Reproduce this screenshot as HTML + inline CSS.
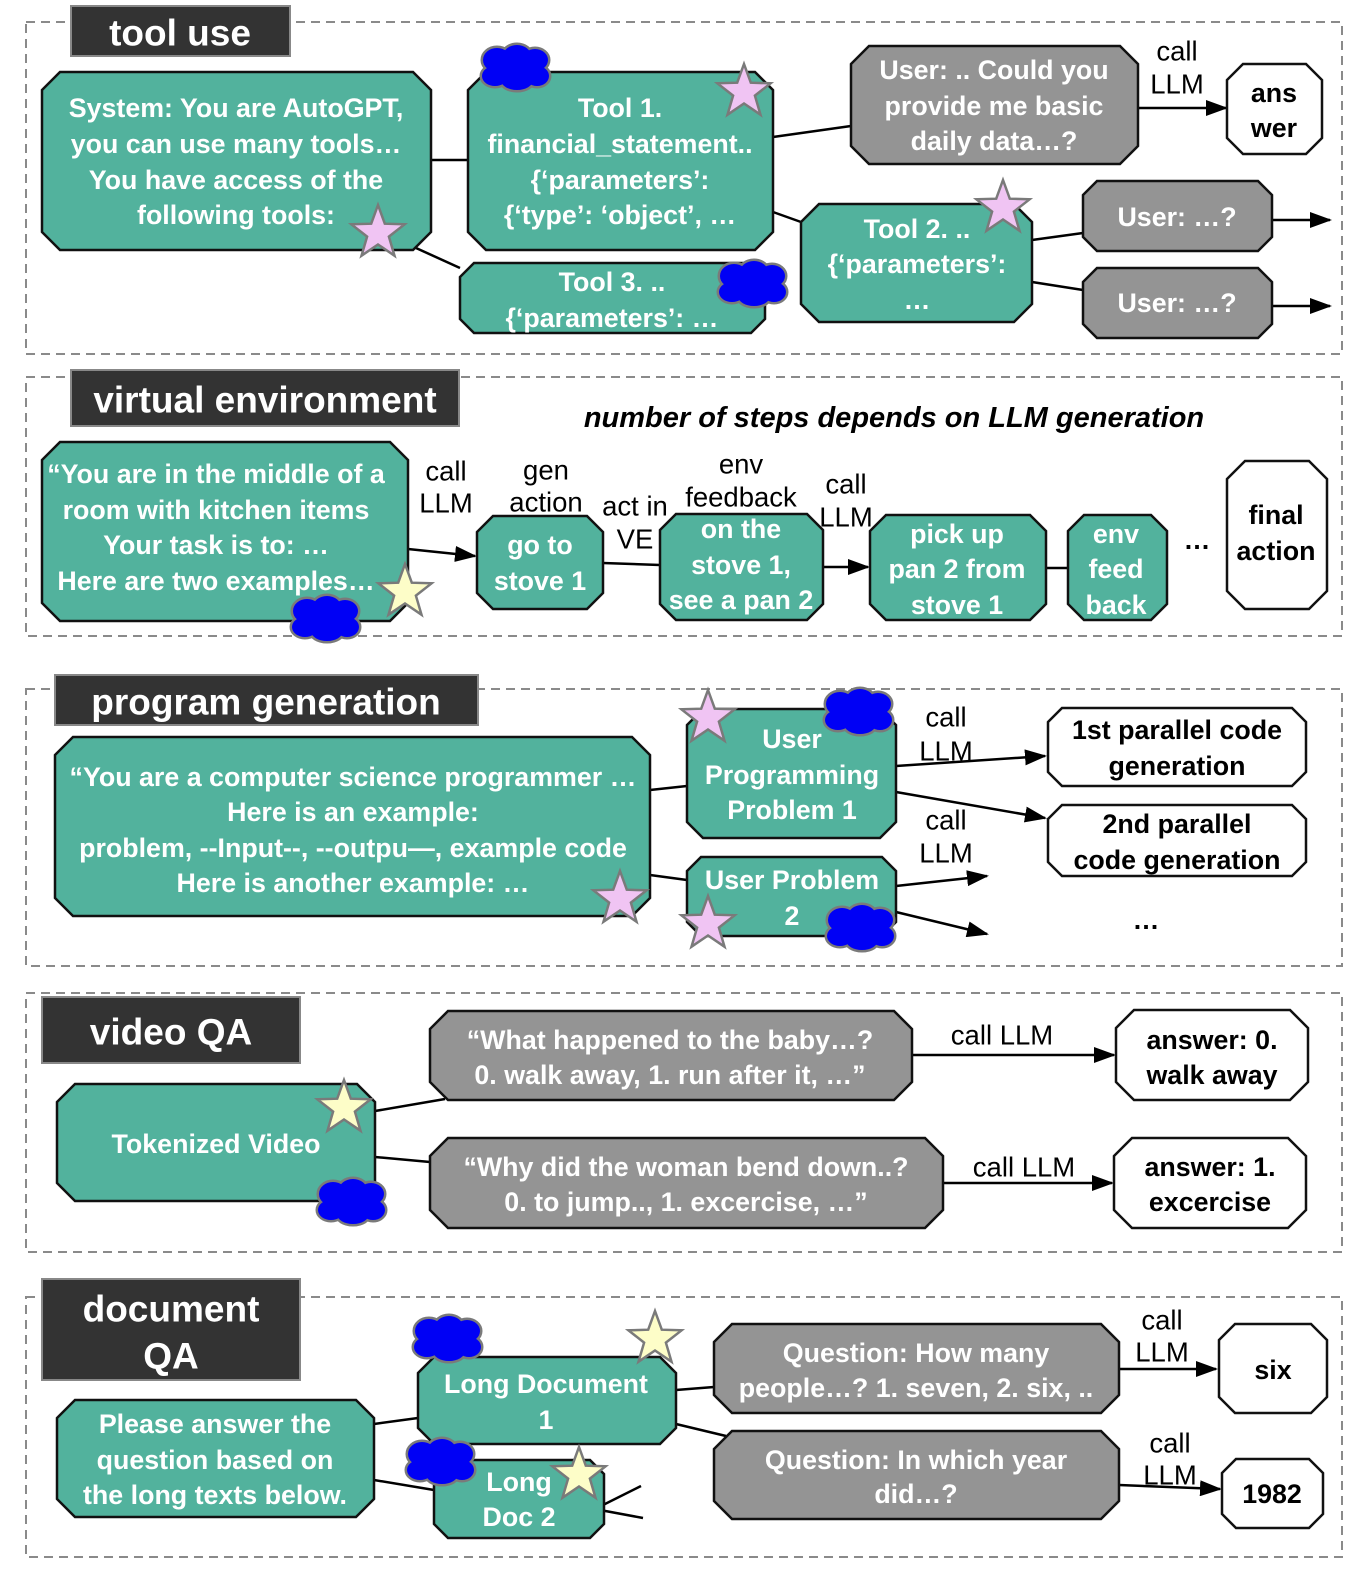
<!DOCTYPE html>
<html><head><meta charset="utf-8"><style>
html,body{margin:0;padding:0;background:#fff}
svg{display:block}
text{font-family:"Liberation Sans",Arial,sans-serif}
.t{fill:#fff;font-weight:bold;font-size:26.8px;text-anchor:middle;dominant-baseline:central}
.k{fill:#000;font-weight:bold;font-size:26.8px;text-anchor:middle;dominant-baseline:central}
.l{fill:#000;font-size:27.5px;text-anchor:middle;dominant-baseline:central}
.h{fill:#fff;font-weight:bold;font-size:37px;text-anchor:middle;dominant-baseline:central}
.g{fill:#52b29d;stroke:#111;stroke-width:2.5}
.y{fill:#949494;stroke:#111;stroke-width:2.5}
.w{fill:#fff;stroke:#111;stroke-width:2.5}
.d{fill:none;stroke:#8a8a8a;stroke-width:2;stroke-dasharray:9,6}
.lab{fill:#333;stroke:#888;stroke-width:2}
line{stroke:#000;stroke-width:2.5}
.a{marker-end:url(#ar)}
</style></head><body>
<svg width="1358" height="1572" viewBox="0 0 1358 1572" xmlns="http://www.w3.org/2000/svg">
<defs>
<marker id="ar" markerWidth="22" markerHeight="16" refX="20" refY="8" orient="auto" markerUnits="userSpaceOnUse"><path d="M0,0 L22,8 L0,16 z" fill="#000"/></marker>
<g id="ps"><polygon points="0,-28 6.8,-9.3 26.6,-8.7 10.9,3.6 16.5,22.7 0,11.5 -16.5,22.7 -10.9,3.6 -26.6,-8.7 -6.8,-9.3" fill="#f0c4f3" stroke="#7a7a7a" stroke-width="2.5"/></g>
<g id="ys"><polygon points="0,-28 6.8,-9.3 26.6,-8.7 10.9,3.6 16.5,22.7 0,11.5 -16.5,22.7 -10.9,3.6 -26.6,-8.7 -6.8,-9.3" fill="#fdfdc8" stroke="#7a7a7a" stroke-width="2.5"/></g>
<g id="cl">
<g fill="#7a7a7a" stroke="#7a7a7a" stroke-width="5">
<ellipse cx="-18" cy="-8" rx="14" ry="12"/><ellipse cx="2" cy="-12" rx="14" ry="11"/><ellipse cx="20" cy="-8" rx="13" ry="11"/><ellipse cx="22" cy="8" rx="12" ry="10"/><ellipse cx="2" cy="12" rx="16" ry="10"/><ellipse cx="-20" cy="8" rx="13" ry="10"/><ellipse cx="0" cy="0" rx="22" ry="14"/></g>
<g fill="#0000f5">
<ellipse cx="-18" cy="-8" rx="14" ry="12"/><ellipse cx="2" cy="-12" rx="14" ry="11"/><ellipse cx="20" cy="-8" rx="13" ry="11"/><ellipse cx="22" cy="8" rx="12" ry="10"/><ellipse cx="2" cy="12" rx="16" ry="10"/><ellipse cx="-20" cy="8" rx="13" ry="10"/><ellipse cx="0" cy="0" rx="22" ry="14"/></g>
</g>
</defs>

<!-- section 1 -->
<rect class="d" x="26" y="22" width="1316" height="332"/>
<rect class="lab" x="71" y="6" width="219" height="50"/>
<text class="h" x="180" y="33">tool use</text>
<line x1="431" y1="160" x2="468" y2="160"/>
<line x1="416" y1="248" x2="460" y2="268"/>
<line x1="773" y1="137" x2="851" y2="126"/>
<line x1="773" y1="212" x2="801" y2="222"/>
<line x1="1032" y1="240" x2="1083" y2="233"/>
<line x1="1032" y1="282" x2="1083" y2="290"/>
<line class="a" x1="1138" y1="108" x2="1226" y2="108"/>
<line class="a" x1="1272" y1="220" x2="1330" y2="220"/>
<line class="a" x1="1272" y1="306" x2="1330" y2="306"/>
<polygon class="g" points="60,72 413,72 431,90 431,232 413,250 60,250 42,232 42,90"/>
<text class="t" x="236" y="108">System: You are AutoGPT,</text>
<text class="t" x="236" y="144">you can use many tools…</text>
<text class="t" x="236" y="180">You have access of the</text>
<text class="t" x="236" y="215">following tools:</text>
<use href="#ps" x="378" y="233"/>
<polygon class="g" points="486,72 755,72 773,90 773,232 755,250 486,250 468,232 468,90"/>
<text class="t" x="620" y="108">Tool 1.</text>
<text class="t" x="620" y="144">financial_statement..</text>
<text class="t" x="620" y="180">{‘parameters’:</text>
<text class="t" x="620" y="215">{‘type’: ‘object’, …</text>
<use href="#cl" x="515" y="68"/>
<use href="#ps" x="744" y="92"/>
<polygon class="g" points="474,263 751,263 765,277 765,319 751,333 474,333 460,319 460,277"/>
<text class="t" x="612" y="282">Tool 3. ..</text>
<text class="t" x="612" y="318">{‘parameters’: …</text>
<use href="#cl" x="752" y="284"/>
<polygon class="y" points="869,46 1120,46 1138,64 1138,146 1120,164 869,164 851,146 851,64"/>
<text class="t" x="994" y="70">User: .. Could you</text>
<text class="t" x="994" y="106">provide me basic</text>
<text class="t" x="994" y="141">daily data…?</text>
<text class="l" x="1177" y="51">call</text>
<text class="l" x="1177" y="84">LLM</text>
<polygon class="w" points="1243,64 1306,64 1322,80 1322,138 1306,154 1243,154 1227,138 1227,80"/>
<text class="k" x="1274" y="93">ans</text>
<text class="k" x="1274" y="128">wer</text>
<polygon class="g" points="819,204 1014,204 1032,222 1032,304 1014,322 819,322 801,304 801,222"/>
<text class="t" x="917" y="229">Tool 2. ..</text>
<text class="t" x="917" y="264">{‘parameters’:</text>
<text class="t" x="917" y="300">…</text>
<use href="#ps" x="1003" y="208"/>
<polygon class="y" points="1097,181 1258,181 1272,195 1272,237 1258,251 1097,251 1083,237 1083,195"/>
<text class="t" x="1177" y="217">User: …?</text>
<polygon class="y" points="1097,268 1258,268 1272,282 1272,324 1258,338 1097,338 1083,324 1083,282"/>
<text class="t" x="1177" y="303">User: …?</text>

<!-- section 2 -->
<rect class="d" x="26" y="377" width="1316" height="259"/>
<rect class="lab" x="71" y="370" width="388" height="56"/>
<text class="h" x="265" y="400">virtual environment</text>
<text x="894" y="418" style="font-size:29px;font-style:italic;font-weight:bold;text-anchor:middle;dominant-baseline:central" fill="#000">number of steps depends on LLM generation</text>
<line class="a" x1="408" y1="549" x2="475" y2="556"/>
<line x1="603" y1="563" x2="660" y2="565"/>
<line class="a" x1="823" y1="567" x2="868" y2="567"/>
<line x1="1046" y1="568" x2="1068" y2="568"/>
<polygon class="g" points="60,442 390,442 408,460 408,603 390,621 60,621 42,603 42,460"/>
<text class="t" x="216" y="474">“You are in the middle of a</text>
<text class="t" x="216" y="510">room with kitchen items</text>
<text class="t" x="216" y="545">Your task is to: …</text>
<text class="t" x="216" y="581">Here are two examples…</text>
<use href="#cl" x="325" y="619"/>
<use href="#ys" x="405" y="592"/>
<text class="l" x="446" y="471">call</text>
<text class="l" x="446" y="503">LLM</text>
<text class="l" x="546" y="470">gen</text>
<text class="l" x="546" y="502">action</text>
<text class="l" x="635" y="506">act in</text>
<text class="l" x="635" y="539">VE</text>
<text class="l" x="741" y="464">env</text>
<text class="l" x="741" y="497">feedback</text>
<text class="l" x="846" y="484">call</text>
<text class="l" x="846" y="517">LLM</text>
<polygon class="g" points="493,516 587,516 603,532 603,593 587,609 493,609 477,593 477,532"/>
<text class="t" x="540" y="545">go to</text>
<text class="t" x="540" y="581">stove 1</text>
<polygon class="g" points="676,514 807,514 823,530 823,604 807,620 676,620 660,604 660,530"/>
<text class="t" x="741" y="529">on the</text>
<text class="t" x="741" y="565">stove 1,</text>
<text class="t" x="741" y="600">see a pan 2</text>
<polygon class="g" points="886,515 1030,515 1046,531 1046,604 1030,620 886,620 870,604 870,531"/>
<text class="t" x="957" y="534">pick up</text>
<text class="t" x="957" y="569">pan 2 from</text>
<text class="t" x="957" y="605">stove 1</text>
<polygon class="g" points="1084,515 1151,515 1167,531 1167,604 1151,620 1084,620 1068,604 1068,531"/>
<text class="t" x="1116" y="534">env</text>
<text class="t" x="1116" y="569">feed</text>
<text class="t" x="1116" y="605">back</text>
<text class="k" x="1197" y="540">…</text>
<polygon class="w" points="1245,461 1309,461 1327,479 1327,591 1309,609 1245,609 1227,591 1227,479"/>
<text class="k" x="1276" y="515">final</text>
<text class="k" x="1276" y="551">action</text>

<!-- section 3 -->
<rect class="d" x="26" y="689" width="1316" height="277"/>
<rect class="lab" x="55" y="675" width="423" height="50"/>
<text class="h" x="266" y="702">program generation</text>
<line x1="650" y1="790" x2="687" y2="786"/>
<line x1="650" y1="875" x2="687" y2="880"/>
<line class="a" x1="896" y1="766" x2="1045" y2="756"/>
<line class="a" x1="896" y1="792" x2="1045" y2="818"/>
<line class="a" x1="896" y1="886" x2="987" y2="876"/>
<line class="a" x1="896" y1="912" x2="987" y2="934"/>
<polygon class="g" points="73,737 632,737 650,755 650,898 632,916 73,916 55,898 55,755"/>
<text class="t" x="353" y="777">“You are a computer science programmer …</text>
<text class="t" x="353" y="812">Here is an example:</text>
<text class="t" x="353" y="848">problem, --Input--, --outpu—, example code</text>
<text class="t" x="353" y="883">Here is another example: …</text>
<use href="#ps" x="620" y="899"/>
<polygon class="g" points="703,709 880,709 896,725 896,822 880,838 703,838 687,822 687,725"/>
<text class="t" x="792" y="739">User</text>
<text class="t" x="792" y="775">Programming</text>
<text class="t" x="792" y="810">Problem 1</text>
<use href="#ps" x="708" y="718"/>
<use href="#cl" x="858" y="712"/>
<text class="l" x="946" y="717">call</text>
<text class="l" x="946" y="751">LLM</text>
<text class="l" x="946" y="820">call</text>
<text class="l" x="946" y="853">LLM</text>
<polygon class="w" points="1062,708 1292,708 1306,722 1306,772 1292,786 1062,786 1048,772 1048,722"/>
<text class="k" x="1177" y="730">1st parallel code</text>
<text class="k" x="1177" y="766">generation</text>
<polygon class="w" points="1062,805 1292,805 1306,819 1306,862 1292,876 1062,876 1048,862 1048,819"/>
<text class="k" x="1177" y="824">2nd parallel</text>
<text class="k" x="1177" y="860">code generation</text>
<polygon class="g" points="701,857 882,857 896,871 896,922 882,936 701,936 687,922 687,871"/>
<text class="t" x="792" y="880">User Problem</text>
<text class="t" x="792" y="916">2</text>
<use href="#ps" x="708" y="924"/>
<use href="#cl" x="860" y="928"/>
<text class="k" x="1146" y="920">…</text>

<!-- section 4 -->
<rect class="d" x="26" y="993" width="1316" height="259"/>
<rect class="lab" x="42" y="997" width="258" height="66"/>
<text class="h" x="171" y="1032">video QA</text>
<line x1="375" y1="1111" x2="445" y2="1099"/>
<line x1="375" y1="1157" x2="430" y2="1162"/>
<line class="a" x1="912" y1="1055" x2="1114" y2="1055"/>
<line class="a" x1="943" y1="1183" x2="1112" y2="1183"/>
<polygon class="g" points="75,1084 357,1084 375,1102 375,1183 357,1201 75,1201 57,1183 57,1102"/>
<text class="t" x="216" y="1144">Tokenized Video</text>
<use href="#ys" x="344" y="1108"/>
<use href="#cl" x="351" y="1202"/>
<polygon class="y" points="448,1011 894,1011 912,1029 912,1082 894,1100 448,1100 430,1082 430,1029"/>
<text class="t" x="670" y="1040">“What happened to the baby…?</text>
<text class="t" x="670" y="1075">0. walk away, 1. run after it, …”</text>
<text class="l" x="1002" y="1035">call LLM</text>
<polygon class="w" points="1134,1010 1290,1010 1308,1028 1308,1082 1290,1100 1134,1100 1116,1082 1116,1028"/>
<text class="k" x="1212" y="1040">answer: 0.</text>
<text class="k" x="1212" y="1075">walk away</text>
<polygon class="y" points="448,1138 925,1138 943,1156 943,1210 925,1228 448,1228 430,1210 430,1156"/>
<text class="t" x="686" y="1167">“Why did the woman bend down..?</text>
<text class="t" x="686" y="1202">0. to jump.., 1. excercise, …”</text>
<text class="l" x="1024" y="1167">call LLM</text>
<polygon class="w" points="1132,1138 1288,1138 1306,1156 1306,1210 1288,1228 1132,1228 1114,1210 1114,1156"/>
<text class="k" x="1210" y="1167">answer: 1.</text>
<text class="k" x="1210" y="1202">excercise</text>

<!-- section 5 -->
<rect class="d" x="26" y="1297" width="1316" height="260"/>
<rect class="lab" x="42" y="1279" width="258" height="101"/>
<text class="h" x="171" y="1309">document</text>
<text class="h" x="171" y="1356">QA</text>
<line x1="374" y1="1424" x2="418" y2="1418"/>
<line x1="374" y1="1480" x2="434" y2="1490"/>
<line x1="597" y1="1508" x2="641" y2="1486"/>
<line x1="600" y1="1510" x2="643" y2="1518"/>
<line x1="676" y1="1390" x2="714" y2="1387"/>
<line x1="676" y1="1424" x2="726" y2="1436"/>
<line class="a" x1="1119" y1="1369" x2="1216" y2="1369"/>
<line class="a" x1="1119" y1="1485" x2="1220" y2="1489"/>
<polygon class="g" points="75,1400 356,1400 374,1418 374,1499 356,1517 75,1517 57,1499 57,1418"/>
<text class="t" x="215" y="1424">Please answer the</text>
<text class="t" x="215" y="1460">question based on</text>
<text class="t" x="215" y="1495">the long texts below.</text>
<polygon class="g" points="434,1357 660,1357 676,1373 676,1428 660,1444 434,1444 418,1428 418,1373"/>
<text class="t" x="546" y="1384">Long Document</text>
<text class="t" x="546" y="1420">1</text>
<use href="#cl" x="447" y="1339"/>
<use href="#ys" x="655" y="1339"/>
<polygon class="g" points="448,1460 590,1460 604,1474 604,1524 590,1538 448,1538 434,1524 434,1474"/>
<text class="t" x="519" y="1482">Long</text>
<text class="t" x="519" y="1517">Doc 2</text>
<use href="#cl" x="440" y="1462"/>
<use href="#ys" x="579" y="1475"/>
<polygon class="y" points="732,1324 1101,1324 1119,1342 1119,1395 1101,1413 732,1413 714,1395 714,1342"/>
<text class="t" x="916" y="1353">Question: How many</text>
<text class="t" x="916" y="1388">people…? 1. seven, 2. six, ..</text>
<polygon class="y" points="732,1431 1101,1431 1119,1449 1119,1501 1101,1519 732,1519 714,1501 714,1449"/>
<text class="t" x="916" y="1460">Question: In which year</text>
<text class="t" x="916" y="1494">did…?</text>
<text class="l" x="1162" y="1320">call</text>
<text class="l" x="1162" y="1352">LLM</text>
<text class="l" x="1170" y="1443">call</text>
<text class="l" x="1170" y="1475">LLM</text>
<polygon class="w" points="1235,1324 1311,1324 1327,1340 1327,1397 1311,1413 1235,1413 1219,1397 1219,1340"/>
<text class="k" x="1273" y="1370">six</text>
<polygon class="w" points="1236,1459 1309,1459 1323,1473 1323,1514 1309,1528 1236,1528 1222,1514 1222,1473"/>
<text class="k" x="1272" y="1494">1982</text>
</svg>
</body></html>
